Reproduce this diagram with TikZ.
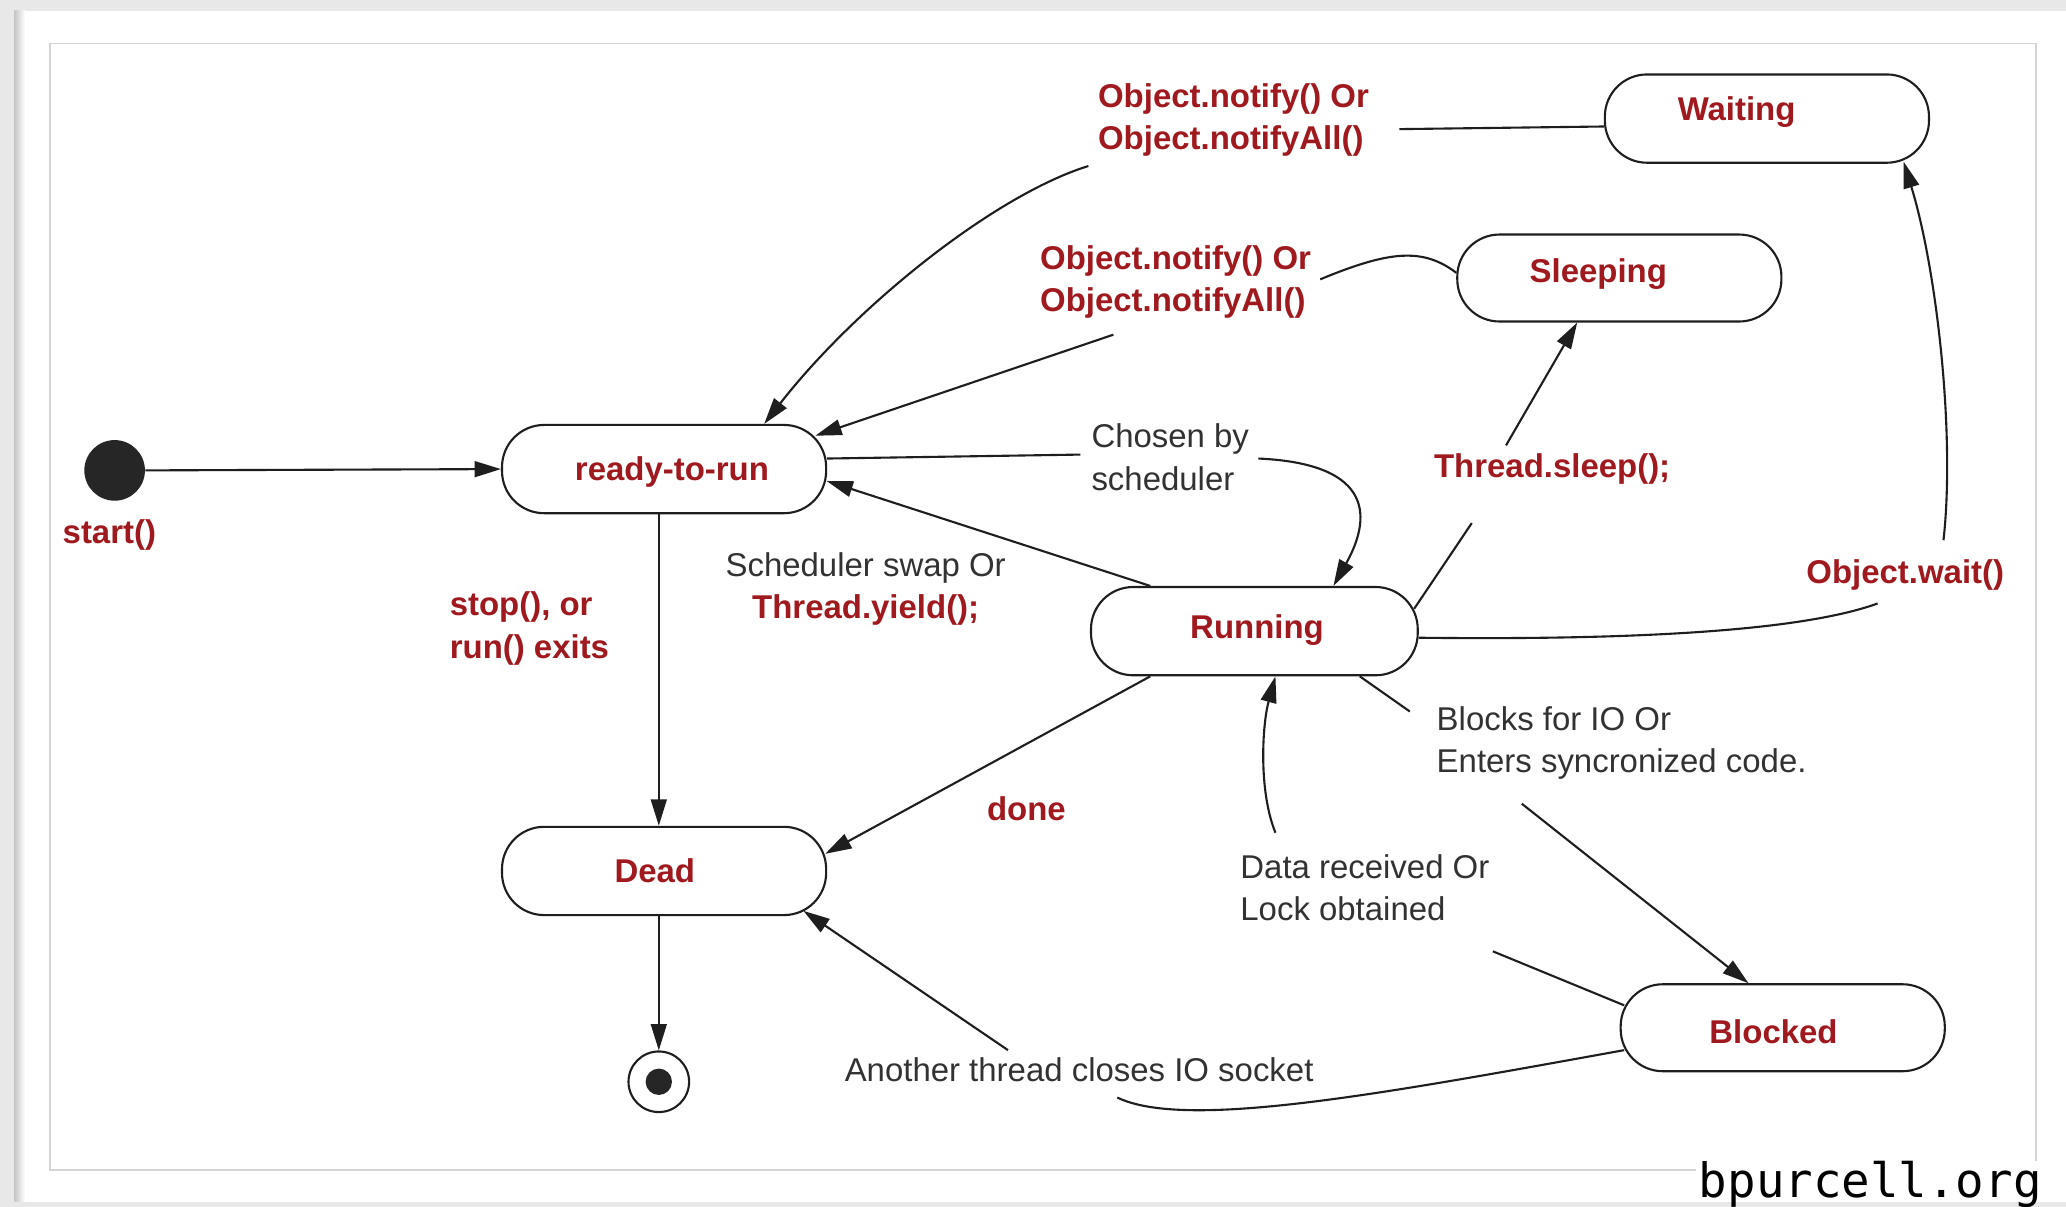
\documentclass[tikz,border=0pt]{standalone}
\usepackage{fontspec}
\setmainfont{Liberation Sans}
\newfontfamily\creditfont{DejaVu Sans Mono}
\usetikzlibrary{arrows.meta,calc}
\definecolor{lblred}{RGB}{160,25,30}
\definecolor{lblgray}{RGB}{50,50,50}
\definecolor{linegray}{RGB}{30,30,30}
\definecolor{bggray}{RGB}{232,232,232}
\definecolor{framegray}{RGB}{212,212,212}
\definecolor{dotfill}{RGB}{38,38,38}
\begin{document}
\begin{tikzpicture}[x=0.5pt,y=-0.5pt,
  state/.style={draw=linegray,line width=0.8pt,rounded corners=16pt,minimum width=123pt,minimum height=33.5pt,inner sep=0pt},
  stxt/.style={text=lblred,font=\bfseries\fontsize{12.5}{16}\selectfont,inner sep=0pt},
  redlbl/.style={text=lblred,font=\bfseries\fontsize{12.5}{16}\selectfont,inner sep=0pt},
  graylbl/.style={text=lblgray,font=\fontsize{12.5}{16}\selectfont,inner sep=0pt},
  conn/.style={draw=linegray,line width=0.8pt},
  arr/.style={conn,-{Triangle[length=10pt,width=6pt]}},
]
\useasboundingbox (0,0) rectangle (1568,916);
% page background and frame
\fill[bggray] (0,0) rectangle (1568,916);
\fill[white] (12,8) rectangle (1568,912);
\shade[left color=black!22,right color=white] (11,8) rectangle (19,912);
\draw[framegray,line width=0.6pt] (38,33) rectangle (1545,888);

% states
\node[circle,fill=dotfill,minimum size=23pt,inner sep=0pt] (start) at (87,357) {};
\node[state,label={[stxt,xshift=3pt,yshift=-1pt]center:ready-to-run}] (ready) at (504,356) {};
\node[state,label={[stxt,xshift=-3.5pt,yshift=0pt]center:Dead}] (dead) at (504,661) {};
\node[state,minimum width=124pt,label={[stxt,xshift=1pt,yshift=0.5pt]center:Running}] (running) at (952,479) {};
\node[state,minimum height=33pt,label={[stxt,xshift=-8pt,yshift=1.5pt]center:Sleeping}] (sleeping) at (1229,211) {};
\node[state,label={[stxt,xshift=-11.5pt,yshift=2.5pt]center:Waiting}] (waiting) at (1341,90) {};
\node[state,minimum height=33pt,label={[stxt,xshift=-3.5pt,yshift=-1.5pt]center:Blocked}] (blocked) at (1353,780) {};
\node[circle,draw=linegray,line width=0.8pt,minimum size=23pt,inner sep=0pt] (end) at (500,821) {};
\node[circle,fill=dotfill,minimum size=10pt,inner sep=0pt] (enddot) at (end.center) {};

% labels
\node[redlbl] (startlbl) at (83,406) {start()};
\node[redlbl,anchor=west,align=left] (stoplbl) at (341,477) {stop(), or\\run() exits};
\node[inner sep=0pt,align=center,font=\fontsize{12.5}{16}\selectfont] (swaplbl) at (657,447) {\textcolor{lblgray}{Scheduler swap Or}\\\textcolor{lblred}{\bfseries Thread.yield();}};
\node[graylbl,anchor=west,align=left] (chosenlbl) at (828,347) {Chosen by\\scheduler};
\node[redlbl] (donelbl) at (779,614) {done};
\node[redlbl] (sleeplbl) at (1178,356) {Thread.sleep();};
\node[redlbl] (waitlbl) at (1446,436) {Object.wait()};
\node[redlbl,anchor=west,align=left] (notifyA) at (833,91) {Object.notify() Or\\Object.notifyAll()};
\node[redlbl,anchor=west,align=left] (notifyB) at (789,214) {Object.notify() Or\\Object.notifyAll()};
\node[graylbl,anchor=west,align=left] (blockslbl) at (1090,564) {Blocks for IO Or\\Enters syncronized code.};
\node[graylbl,anchor=west,align=left] (datalbl) at (941,674) {Data received Or\\Lock obtained};
\node[graylbl] (anotherlbl) at (819,812) {Another thread closes IO socket};

% break points of connectors around labels
\coordinate (ch1) at (820,345);
\coordinate (ch2) at (955,348);
\coordinate (ts1) at (1117,397);
\coordinate (ts2) at (1143,338);
\coordinate (ow1) at (1425,458);
\coordinate (ow2) at (1475,410);
\coordinate (sn1) at (1002,212);
\coordinate (sn2) at (845,254);
\coordinate (wn1) at (1062,98);
\coordinate (wn2) at (826,126);
\coordinate (bl1) at (1070,540);
\coordinate (bl2) at (1155,610);
\coordinate (dr1) at (1133,722);
\coordinate (dr2) at (968,632);
\coordinate (at1) at (848,833);
\coordinate (at2) at (765,797);

% connectors
\draw[arr] (start.east) -- (ready.west);
\draw[arr] ($(ready.south)+(-4,0)$) -- ($(dead.north)+(-4,0)$);
\draw[arr] (dead.south -| end.north) -- (end.north);
% chosen by scheduler
\draw[conn] ($(ready.east)+(0,-8)$) -- (ch1);
\draw[arr] (ch2) .. controls (1045,352) and (1040,395) .. ($(running.north)+(60,0)$);
% scheduler swap
\draw[arr] ($(running.north)+(-79,0)$) -- ($(ready.east)+(-0.5,9)$);
% done
\draw[arr] ($(running.south)+(-79,0)$) -- ($(dead.east)+(-1.5,-13)$);
% sleep
\draw[conn] ($(running.east)+(-3.5,-17)$) -- (ts1);
\draw[arr] (ts2) -- ($(sleeping.south)+(-32,0)$);
% wait
\draw[conn] ($(running.east)+(0,5)$) .. controls (1250,486) and (1370,478) .. (ow1);
\draw[arr] (ow2) .. controls (1484,330) and (1470,205) .. ($(waiting.south east)+(-20,-1.5)$);
% notify from sleeping
\draw[conn] ($(sleeping.west)+(0,-4)$) .. controls (1080,188) and (1055,190) .. (sn1);
\draw[arr] (sn2) -- ($(ready.north east)+(-9,9)$);
% notify from waiting
\draw[conn] ($(waiting.west)+(0,6)$) -- (wn1);
\draw[arr] (wn2) .. controls (755,148) and (650,232) .. ($(ready.north)+(76,0)$);
% blocks
\draw[conn] ($(running.south)+(80,0)$) -- (bl1);
\draw[arr] (bl2) -- ($(blocked.north)+(-26,0)$);
% data received
\draw[conn] ($(blocked.west)+(3.5,-17)$) -- (dr1);
\draw[arr] (dr2) .. controls (955,600) and (958,550) .. ($(running.south)+(16,0)$);
% another thread closes
\draw[conn] ($(blocked.west)+(3.5,17)$) .. controls (1050,830) and (900,858) .. (at1);
\draw[arr] (at2) -- ($(dead.south east)+(-18,-4)$);

% credit
\fill[white] (1287,881) rectangle (1549,911);
\node[anchor=base west,inner sep=0pt,font=\creditfont\fontsize{18}{20}\selectfont,text=black] (credit) at (1289,909) {bpurcell.org};
\end{tikzpicture}
\end{document}
